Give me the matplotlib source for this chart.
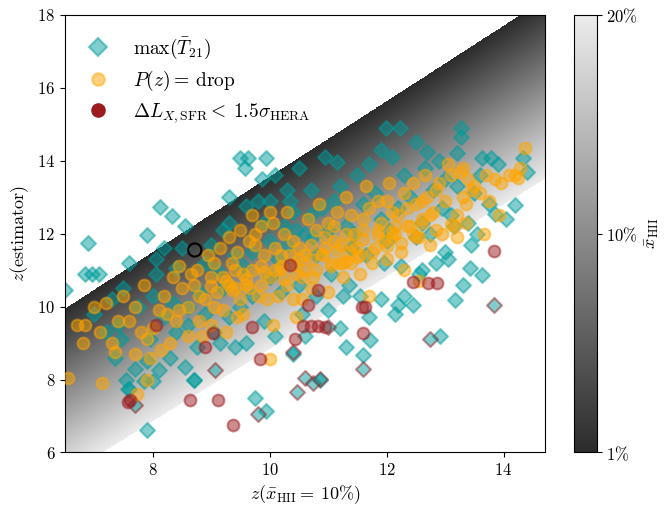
import numpy as np
import matplotlib.pyplot as plt
from matplotlib.colors import LinearSegmentedColormap
from matplotlib.lines import Line2D
from matplotlib.cm import ScalarMappable
from matplotlib.colors import Normalize

plt.rcParams['font.family'] = 'serif'
plt.rcParams['font.serif'] = ['cmr10']
plt.rcParams['mathtext.fontset'] = 'cm'
plt.rcParams['axes.formatter.use_mathtext'] = True

# %% data

# max(T21) estimator, diamonds
tmax_x = [6.5, 6.89, 6.84, 6.96, 7.08, 7.3, 7.5, 7.6, 7.9, 8.05, 8.13, 8.33, 8.55, 8.2, 8.4,
          8.5, 7.75, 8.0, 7.4, 7.2, 7.0, 7.35, 7.55, 7.6, 7.7, 7.9, 8.0, 7.85, 8.1, 8.3,
          8.55, 8.7, 8.75, 8.4, 8.2, 8.6, 8.8, 8.9, 9.0, 9.2, 9.5, 9.63, 9.94, 9.58, 9.87,
          10.1, 10.5, 10.95, 11.15, 10.3, 10.7, 9.3, 9.6, 10.0, 10.4, 10.9, 11.2, 11.5, 11.7, 11.9,
          11.99, 12.23, 12.5, 12.7, 12.1, 12.3, 12.8, 13.0, 13.28, 13.28, 13.2, 12.9, 13.64, 13.78, 14.34,
          13.6, 13.9, 14.2, 13.86, 13.75, 13.5, 14.4, 13.4, 13.1, 12.6, 12.2, 11.9, 11.6, 11.3, 11.0,
          10.6, 10.3, 10.0, 9.7, 9.4, 9.1, 9.3, 9.9, 10.7, 11.4, 12.0, 12.5, 13.0, 13.43, 13.64,
          13.17, 13.3, 12.92, 12.3, 12.2, 12.45, 11.9, 11.7, 11.72, 11.6, 11.2, 11.0, 10.8, 10.5, 10.2,
          10.0, 9.7, 9.5, 9.3, 9.05, 9.9, 10.4, 10.86, 9.75, 9.94, 8.7, 7.58, 7.9, 9.4, 9.6,
          10.1, 10.6, 11.3, 12.15, 9.8, 10.25, 10.8, 11.1, 11.45, 11.8, 12.4, 12.65, 12.95, 13.2, 13.55,
          9.2, 9.55, 10.15, 10.45, 10.75, 11.05, 11.35, 11.65, 11.95, 12.25, 12.55, 12.85, 13.15, 8.9, 8.6,
          10.55, 11.55, 12.05, 12.6, 13.05, 8.35, 8.05, 7.45, 7.95, 9.15, 12.75, 13.45, 14.05, 11.25, 10.35]
tmax_y = [10.45, 11.75, 10.9, 10.9, 10.9, 10.2, 10.5, 11.2, 11.95, 11.3, 12.73, 12.48, 12.2, 11.6, 11.05,
          11.6, 10.0, 10.3, 9.5, 9.3, 9.8, 8.6, 8.0, 7.75, 8.3, 8.5, 7.95, 7.95, 8.25, 8.6,
          8.35, 8.0, 8.9, 9.3, 9.7, 10.0, 10.4, 11.2, 11.7, 12.1, 14.07, 14.07, 14.07, 13.8, 13.5,
          13.6, 13.8, 14.1, 13.95, 13.2, 13.2, 13.0, 12.75, 12.9, 12.6, 12.7, 13.3, 13.6, 13.9, 14.3,
          14.9, 14.9, 14.5, 14.25, 14.1, 13.6, 13.2, 13.5, 14.9, 14.65, 14.2, 14.0, 14.07, 14.07, 14.07,
          13.6, 13.9, 12.78, 12.55, 12.8, 13.1, 13.7, 12.3, 12.5, 12.3, 12.7, 12.4, 12.8, 12.2, 12.1,
          12.0, 11.7, 11.8, 11.5, 11.4, 11.0, 12.3, 12.3, 12.5, 11.6, 11.8, 11.9, 11.5, 11.05, 10.87,
          10.17, 10.6, 9.2, 10.3, 10.05, 10.05, 10.2, 9.7, 9.08, 8.67, 9.4, 9.9, 10.3, 10.6, 10.4,
          10.8, 10.3, 10.0, 9.7, 9.3, 9.6, 8.7, 8.0, 7.5, 7.15, 8.0, 7.75, 6.62, 8.9, 9.0,
          9.2, 9.2, 8.9, 9.8, 12.9, 12.2, 11.4, 12.9, 12.0, 13.1, 13.0, 13.8, 12.7, 13.3, 12.0,
          10.5, 11.1, 11.3, 12.1, 11.9, 10.9, 10.6, 11.4, 11.2, 11.1, 10.9, 11.2, 12.2, 9.8, 9.5,
          9.8, 10.3, 12.1, 11.0, 11.3, 10.1, 10.9, 9.1, 9.1, 9.0, 12.0, 11.7, 12.4, 10.3, 12.9]

# diamonds of the runs failing the luminosity cut (red edge)
tcut_x = [7.7, 9.07, 9.8, 10.47, 10.6, 10.75, 10.86, 11.6, 12.75, 13.83, 10.4, 11.0]
tcut_y = [7.3, 8.25, 7.05, 7.65, 8.05, 7.9, 8.02, 8.3, 9.1, 10.05, 8.75, 9.45]

# P(z) = drop estimator, circles
drop_x = [6.55, 6.7, 6.85, 7.0, 7.2, 7.1, 7.3, 7.35, 7.4, 7.5, 6.8, 7.13, 7.73, 7.9,
          7.6, 7.7, 7.8, 7.9, 8.0, 8.1, 8.2, 8.3, 8.4, 8.5, 7.95, 8.15, 8.35, 8.45, 7.7, 8.6, 8.25, 7.85,
          8.6, 8.7, 8.8, 8.9, 9.0, 9.1, 9.2, 9.3, 9.4, 9.5, 8.75, 8.95, 9.15, 9.35, 9.0, 9.25, 8.85,
          9.45, 8.65, 9.05, 9.4, 9.2, 9.05, 9.45, 9.5, 9.3, 10.0,
          9.6, 9.7, 9.8, 9.9, 10.0, 10.1, 10.2, 10.3, 10.4, 10.5, 9.65, 9.75, 9.85, 10.05, 10.25,
          10.35, 10.45, 9.95, 9.55, 10.15, 10.4, 9.7, 10.0, 10.3, 9.85, 10.1, 10.2, 10.5, 10.45, 10.05,
          10.6, 10.7, 10.8, 10.9, 11.0, 11.1, 11.2, 11.3, 11.4, 11.5, 10.65, 10.75, 10.85, 10.95, 11.05,
          11.15, 11.25, 11.35, 11.45, 10.7, 11.0, 11.3, 11.1, 11.4, 10.6, 11.2,
          11.6, 11.7, 11.8, 11.9, 12.0, 12.1, 12.2, 12.3, 12.4, 12.5, 11.65, 11.75, 11.85, 11.95, 12.05,
          12.15, 12.25, 12.35, 12.45, 11.55, 11.7, 12.0, 12.3, 12.5, 11.6, 12.1,
          12.6, 12.7, 12.8, 12.9, 13.0, 13.1, 13.2, 13.3, 13.4, 12.65, 12.75, 12.85, 12.95, 13.05, 13.15,
          13.25, 13.35, 13.45, 12.55, 13.2, 12.6,
          13.6, 13.7, 13.75, 13.85, 13.95, 14.1, 14.2, 14.29, 14.37, 14.24, 13.67, 13.93, 13.3, 13.5,
          9.55, 9.75, 10.95, 11.55, 12.15, 12.75, 13.35, 8.45, 9.85, 10.55, 11.25, 11.85, 12.45,
          9.0, 9.25, 9.6, 9.9, 10.2, 10.45, 10.7, 10.9, 11.15, 11.4, 11.6, 11.85, 12.1, 12.35, 12.6,
          8.8, 9.35, 9.65, 10.25, 10.55, 10.8, 11.05, 11.3, 11.5, 11.75, 12.0, 12.25, 12.55, 12.85, 13.1]
drop_y = [8.05, 9.5, 9.5, 10.0, 10.1, 9.3, 9.0, 8.75, 9.6, 10.3, 9.0, 7.9, 7.6, 8.0,
          9.6, 10.0, 9.3, 9.1, 9.4, 9.9, 10.3, 9.0, 9.6, 10.5, 8.6, 8.8, 10.8, 11.1, 8.7, 9.2, 9.8, 10.6,
          10.0, 10.6, 9.6, 10.2, 10.8, 10.4, 9.9, 10.6, 11.0, 10.2, 11.0, 11.4, 11.6, 11.2, 9.5, 9.3, 9.2,
          9.7, 10.9, 10.0, 10.5, 10.8, 11.2, 11.5, 12.1, 11.9, 8.57,
          10.6, 11.0, 10.3, 11.4, 10.8, 11.6, 11.1, 10.6, 11.8, 11.3, 11.8, 12.0, 12.2, 12.3, 12.0,
          11.4, 10.9, 10.2, 9.8, 10.3, 10.2, 12.5, 12.6, 12.6, 11.1, 11.0, 11.4, 11.6, 9.7, 9.5,
          11.0, 11.7, 12.1, 11.4, 12.3, 11.8, 11.2, 12.0, 12.5, 11.6, 12.4, 10.8, 12.8, 11.9, 11.1,
          12.6, 10.8, 11.5, 12.0, 10.5, 10.4, 13.0, 12.2, 11.2, 11.4, 11.7,
          12.1, 12.7, 11.6, 12.3, 12.9, 11.9, 12.5, 13.1, 12.2, 12.8, 13.3, 11.2, 12.9, 11.8, 13.4,
          12.2, 11.5, 12.7, 13.4, 10.9, 10.3, 11.3, 11.0, 11.9, 12.4, 12.6,
          12.4, 13.0, 12.6, 13.4, 12.9, 13.6, 12.5, 13.0, 13.5, 13.6, 11.7, 13.2, 12.0, 13.9, 12.2,
          13.7, 12.8, 13.2, 10.7, 11.9, 12.9,
          13.1, 13.6, 12.9, 13.5, 13.4, 13.6, 13.6, 13.79, 14.35, 13.52, 12.0, 12.51, 13.79, 13.3,
          10.9, 11.7, 11.6, 11.4, 12.0, 12.5, 12.3, 9.9, 10.6, 10.2, 11.2, 12.1, 12.0,
          10.55, 10.7, 10.75, 10.95, 11.05, 11.15, 11.3, 11.45, 11.55, 11.7, 11.85, 11.95, 12.05, 12.2, 12.3,
          10.3, 10.45, 10.5, 10.75, 10.8, 11.0, 11.2, 11.25, 11.35, 11.5, 11.65, 11.75, 11.9, 12.1, 12.25]

# runs with Delta L_X,SFR < 1.5 sigma_HERA
cut_x = [7.58, 7.62, 8.64, 9.12, 9.38, 9.84, 9.03, 9.7, 10.35, 10.66, 10.57, 10.7, 10.82, 10.95,
         10.44, 10.83, 13.83, 12.71, 12.87, 11.58, 11.63, 11.6, 12.45, 8.05, 8.9]
cut_y = [7.37, 7.45, 7.45, 7.45, 6.75, 8.57, 9.27, 9.44, 11.14, 10.04, 9.46, 9.46, 9.46, 9.44,
         9.11, 10.45, 11.52, 10.64, 10.64, 10.0, 10.0, 9.27, 10.67, 9.5, 8.9]

# highlighted model
mark_x = [8.72]
mark_y = [11.55]

# edges of the shaded x_HII band, z at 1% (top) and 20% (bottom) vs z at 10%
band_x = [6.5, 14.71]
band_top = [9.93, 18.43]
band_bottom = [5.35, 13.5]
cbar_labels = [r'$1\%$', r'$10\%$', r'$20\%$']

# %% plot

fig = plt.figure(figsize=(6.68, 5.13), dpi=100)
ax = fig.add_axes([0.0973, 0.118, 0.7186, 0.8533])
cax = fig.add_axes([0.8593, 0.118, 0.0338, 0.8533])

cmap = LinearSegmentedColormap.from_list('band', ['#2c2c2c', '#ececec'])

gx = np.linspace(6.5, 14.71, 1200)
gy = np.linspace(6, 18, 1200)
XX, YY = np.meshgrid(gx, gy)
top = np.interp(XX, band_x, band_top)
bot = np.interp(XX, band_x, band_bottom)
frac = (top - YY) / (top - bot)
frac = np.ma.masked_outside(frac, 0, 1)
ax.imshow(frac, extent=[6.5, 14.71, 6, 18], origin='lower', aspect='auto',
          cmap=cmap, vmin=0, vmax=1, zorder=0, interpolation='nearest')

teal = '#009c9c'
red = '#9b1b1f'
ax.scatter(tmax_x, tmax_y, marker='D', s=58, color=teal, edgecolor=teal,
           linewidth=1.5, alpha=0.5, zorder=2)
ax.scatter(tcut_x, tcut_y, marker='D', s=58, color=teal, edgecolor=red,
           linewidth=1.5, alpha=0.5, zorder=2)
ax.scatter(drop_x, drop_y, marker='o', s=72, color='orange', edgecolor='orange',
           linewidth=1.5, alpha=0.5, zorder=3)
ax.scatter(cut_x, cut_y, marker='o', s=72, color=red, edgecolor=red,
           linewidth=1.5, alpha=0.5, zorder=3)
ax.scatter(mark_x, mark_y, marker='o', s=90, facecolor='none', edgecolor='black',
           linewidth=1.5, zorder=4)

ax.set_xlim(6.5, 14.71)
ax.set_ylim(6, 18)
ax.set_xticks([8, 10, 12, 14])
ax.set_yticks([6, 8, 10, 12, 14, 16, 18])
ax.tick_params(labelsize=12)
ax.set_xlabel(r'$z(\bar{x}_{\rm HII} =\:10\%)$', fontsize=13)
ax.set_ylabel(r'$z({\rm estimator})$', fontsize=13)

handles = [Line2D([], [], linestyle='none', marker='D', markersize=9, color=teal, alpha=0.5,
                  markeredgewidth=1.5),
           Line2D([], [], linestyle='none', marker='o', markersize=9, color='orange', alpha=0.5,
                  markeredgewidth=1.5),
           Line2D([], [], linestyle='none', marker='o', markersize=9, color=red,
                  markeredgewidth=1.5)]
labels = [r'$\max(\bar{T}_{21})$', r'$P(z) =\:{\rm drop}$',
          r'$\Delta L_{X,{\rm SFR}} <\:1.5\sigma_{\rm HERA}$']
ax.legend(handles, labels, loc='upper left', frameon=False, fontsize=14,
          handlelength=1.2, handletextpad=1.2, labelspacing=0.4, borderaxespad=0.5,
          borderpad=0.6)

sm = ScalarMappable(norm=Normalize(0, 1), cmap=cmap)
cb = fig.colorbar(sm, cax=cax)
cb.set_ticks([0, 0.5, 1])
cb.set_ticklabels(cbar_labels)
cb.ax.tick_params(labelsize=12)
cb.set_label(r'$\bar{x}_{\rm HII}$', fontsize=13)

fig.savefig('out.png', dpi=100)
